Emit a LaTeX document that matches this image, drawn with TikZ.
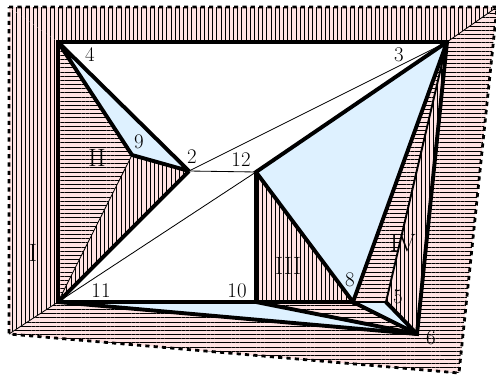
\documentclass[tikz,border=0pt]{standalone}
\usepackage{amsmath, amssymb}
\usepackage{xcolor}
\usepackage{tikz}
\usetikzlibrary{patterns.meta}

\definecolor{rosefill}{RGB}{255,226,226}
\definecolor{skyfill}{RGB}{222,241,255}

\begin{document}
\begin{tikzpicture}[x=0.72pt, y=-0.72pt,
		every node/.style={font=\fontsize{15}{17}\selectfont, inner sep=0pt},
		facename/.style={font=\fontsize{18}{20}\selectfont},
		edge/.style={line width=2.8pt, miter limit=3},
		midedge/.style={line width=1.4pt, miter limit=3},
		crease/.style={line width=0.6pt},
		border/.style={dashed, line width=2pt},
		hatchh/.style={preaction={fill=rosefill}, pattern={Lines[angle=0, distance=3pt, line width=0.45pt]}},
		hatchv/.style={preaction={fill=rosefill}, pattern={Lines[angle=90, distance=3pt, line width=0.45pt]}},
		face/.style={fill=skyfill}]
		\useasboundingbox (0,0) rectangle (496,376);
		
		% Outer corners
		\coordinate (o1) at (9,7);
		\coordinate (o2) at (497,7);
		\coordinate (o3) at (459,373);
		\coordinate (o4) at (9,334);
		
		% Vertices
		\coordinate (v4) at (58,42);
		\coordinate (v3) at (447,42);
		\coordinate (v9) at (132,155);
		\coordinate (v2) at (189,171);
		\coordinate (v12) at (256,172);
		\coordinate (v11) at (58,302);
		\coordinate (v10) at (256,302);
		\coordinate (v8) at (353,302);
		\coordinate (v5) at (386,302);
		\coordinate (v6) at (417,334);
		
		% Hatched regions
		\fill[hatchv] (o1) -- (v4) -- (v11) -- (o4) -- cycle;
		\fill[hatchv] (o1) -- (o2) -- (v3) -- (v4) -- cycle;
		\fill[hatchh] (o2) -- (o3) -- (v6) -- (v3) -- cycle;
		\fill[hatchh] (o4) -- (v11) -- (v6) -- (o3) -- cycle;
		\fill[hatchh] (v4) -- (v9) -- (v11) -- cycle;
		\fill[hatchv] (v9) -- (v2) -- (v11) -- cycle;
		\fill[hatchv] (v12) -- (v10) -- (v8) -- cycle;
		\fill[hatchh] (v10) -- (v8) -- (v6) -- cycle;
		\fill[hatchh] (v3) -- (v8) -- (v5) -- cycle;
		\fill[hatchv] (v3) -- (v5) -- (v6) -- cycle;
		
		% Blue faces
		\fill[face] (v4) -- (v9) -- (v2) -- cycle;
		\fill[face] (v12) -- (v3) -- (v8) -- cycle;
		\fill[face] (v11) -- (v10) -- (v6) -- cycle;
		\fill[face] (v8) -- (v5) -- (v6) -- cycle;
		
		% Thin lines
		\draw[crease] (v2) -- (v3);
		\draw[crease] (v2) -- (v12);
		\draw[crease] (v11) -- (v12);
		\draw[crease] (v9) -- (v11);
		\draw[crease] (v3) -- (o2);
		\draw[crease] (v11) -- (o4);
		
		% Border
		\draw[border] (o1) -- (o2) -- (o3) -- (o4) -- cycle;
		
		% Edges
		\draw[midedge] (v3) -- (v5) -- (v8);
		\draw[edge] (v11) -- (v4) -- (v3) -- (v6) -- cycle;
		\draw[edge] (v4) -- (v9) -- (v2) -- cycle;
		\draw[edge] (v2) -- (v11);
		\draw[edge] (v12) -- (v3) -- (v8) -- cycle;
		\draw[edge] (v12) -- (v10);
		\draw[edge] (v11) -- (v10) -- (v6);
		\draw[edge] (v10) -- (v8) -- (v6) -- (v5);
		
		% Labels
		\node (t4) at (90,55) {4};
		\node (t3) at (399,55) {3};
		\node (t9) at (139,142) {9};
		\node (t2) at (192,157) {2};
		\node (t12) at (241,160) {12};
		\node (t11) at (101,291) {11};
		\node (t10) at (237,291) {10};
		\node (t8) at (350,280) {8};
		\node (t5) at (398,297) {5};
		\node (t6) at (431,338) {6};
		\node[facename] (tI) at (33,253) {I};
		\node[facename] (tII) at (97,158) {II};
		\node[facename] (tIII) at (288,266) {III};
		\node[facename] (tIV) at (403,243) {IV};
	\end{tikzpicture}
\end{document}
